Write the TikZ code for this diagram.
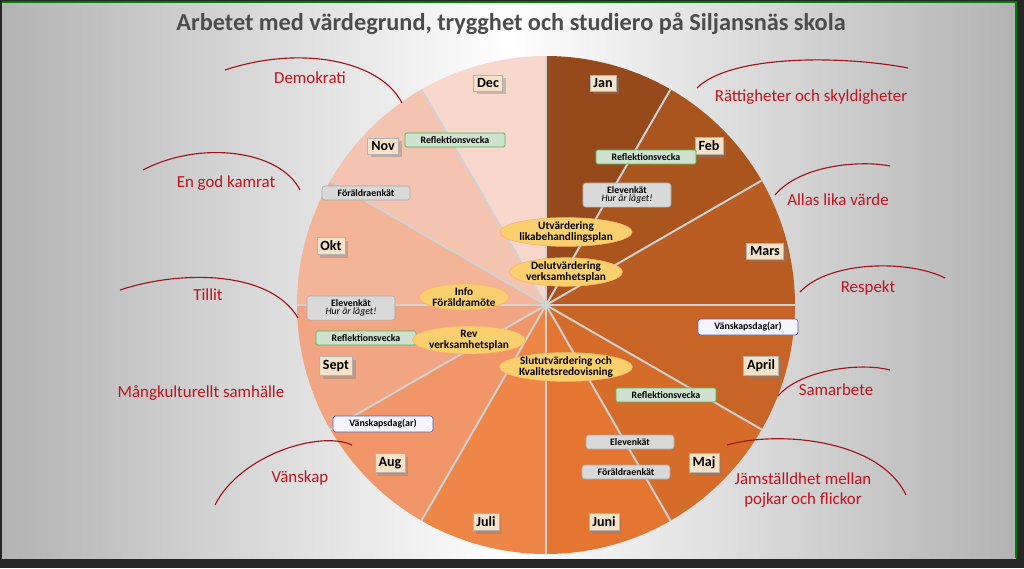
\documentclass[tikz,border=0pt]{standalone}
\usepackage{fontspec}
\setmainfont{Carlito}
\usetikzlibrary{shapes.geometric,shadows}
\definecolor{mJan}{RGB}{150,74,28}
\definecolor{mFeb}{RGB}{170,84,30}
\definecolor{mMar}{RGB}{186,93,34}
\definecolor{mApr}{RGB}{200,100,38}
\definecolor{mMaj}{RGB}{214,108,42}
\definecolor{mJun}{RGB}{228,118,50}
\definecolor{mJul}{RGB}{238,134,72}
\definecolor{mAug}{RGB}{240,150,104}
\definecolor{mSep}{RGB}{241,165,130}
\definecolor{mOkt}{RGB}{243,180,152}
\definecolor{mNov}{RGB}{245,196,176}
\definecolor{mDec}{RGB}{248,216,204}
\definecolor{valred}{RGB}{190,20,30}
\definecolor{arcred}{RGB}{160,20,25}
\definecolor{evtfill}{RGB}{250,208,110}
\definecolor{monthfill}{RGB}{246,226,200}
\tikzset{
  month/.style={draw=gray!60, fill=monthfill, font=\bfseries, inner sep=2.5pt, drop shadow={opacity=0.4}},
  reflbox/.style={draw=green!40!gray, fill=green!25!gray!30, font=\bfseries\scriptsize, rounded corners=1pt, inner sep=2.5pt, minimum width=2.5cm},
  enkat/.style={draw=gray!70, fill=gray!30, font=\bfseries\scriptsize, rounded corners=2pt, inner sep=2.5pt, align=center, minimum width=2.2cm},
  vanbox/.style={draw=blue!30!gray, fill=blue!4, font=\bfseries\scriptsize, rounded corners=2pt, inner sep=2.5pt, minimum width=2.5cm},
  evt/.style={ellipse, draw=orange!60, fill=evtfill, font=\bfseries\footnotesize, align=center, inner sep=0pt},
  value/.style={text=valred, font=\large, align=center},
  valarc/.style={draw=arcred, thick}
}
\begin{document}
\begin{tikzpicture}[x=0.025cm, y=-0.025cm]
%background frame
\useasboundingbox (0,0) rectangle (1024,568);
\fill[black!85] (0,0) rectangle (1024,568);
\shade[left color=gray!60, right color=gray!60, middle color=white] (2,2) rectangle (1016,558);
\draw[green!50!black, line width=1.2pt] (2,2) -- (1016,2) -- (1016,558);

%title
\node[font=\bfseries\LARGE, text=black!70] (title) at (511,24) {Arbetet med värdegrund, trygghet och studiero på Siljansnäs skola};

%wheel of months
\coordinate (C) at (546,305);
\foreach \col [count=\i] in {mJan,mFeb,mMar,mApr,mMaj,mJun,mJul,mAug,mSep,mOkt,mNov,mDec} {
  \pgfmathsetmacro{\sa}{-120+30*\i}
  \fill[\col] (C) -- ++(\sa:249) arc[start angle=\sa, end angle=\sa+30, radius=249] -- cycle;
}
\foreach \a in {-90,-60,...,240}
  \draw[gray!35, line width=1.4pt] (C) -- ++(\a:249);

\node[month] (jan) at (603,83) {Jan};
\node[month] (feb) at (709,146) {Feb};
\node[month] (mar) at (765,251) {Mars};
\node[month] (apr) at (761,366) {April};
\node[month] (maj) at (704,463) {Maj};
\node[month] (jun) at (604,522) {Juni};
\node[month] (jul) at (486,522) {Juli};
\node[month] (aug) at (390,463) {Aug};
\node[month] (sep) at (336,366) {Sept};
\node[month] (okt) at (331,246) {Okt};
\node[month] (nov) at (383,146) {Nov};
\node[month] (dec) at (488,83) {Dec};

%activities
\node[reflbox] (refl1) at (455,140) {Reflektionsvecka};
\node[reflbox] (refl2) at (646,157) {Reflektionsvecka};
\node[reflbox] (refl3) at (366,338) {Reflektionsvecka};
\node[reflbox] (refl4) at (666,395) {Reflektionsvecka};
\node[enkat] (elev1) at (627,195) {Elevenkät\\[-2pt]{\mdseries\itshape Hur är läget!}};
\node[enkat] (elev2) at (351,308) {Elevenkät\\[-2pt]{\mdseries\itshape Hur är läget!}};
\node[enkat] (elev3) at (630,442) {Elevenkät};
\node[enkat] (foer1) at (366,193) {Föräldraenkät};
\node[enkat] (foer2) at (626,472) {Föräldraenkät};
\node[vanbox] (van1) at (748,327) {Vänskapsdag(ar)};
\node[vanbox] (van2) at (383,424) {Vänskapsdag(ar)};

\node[evt] (utv) at (566,232) {Utvärdering\\[-2pt]likabehandlingsplan};
\node[evt] (delutv) at (566,272) {Delutvärdering\\[-2pt]verksamhetsplan};
\node[evt] (info) at (464,297) {Info\\[-2pt]Föräldramöte};
\node[evt] (rev) at (469,340) {Rev\\[-2pt]verksamhetsplan};
\node[evt] (slut) at (566,367) {Slututvärdering och\\[-2pt]Kvalitetsredovisning};

%values
\node[value] (demo) at (310,78) {Demokrati};
\node[value] (ratt) at (811,97) {Rättigheter och skyldigheter};
\node[value] (allas) at (838,200) {Allas lika värde};
\node[value] (resp) at (868,288) {Respekt};
\node[value] (samarb) at (836,390) {Samarbete};
\node[value] (jamst) at (803,490) {Jämställdhet mellan\\pojkar och flickor};
\node[value] (kamrat) at (226,183) {En god kamrat};
\node[value] (tillit) at (208,295) {Tillit};
\node[value] (mangk) at (201,393) {Mångkulturellt samhälle};
\node[value] (vansk) at (300,478) {Vänskap};

\draw[valarc] (225,70) .. controls (300,45) and (380,60) .. (402,103);
\draw[valarc] (697,88) .. controls (730,55) and (840,55) .. (908,68);
\draw[valarc] (775,195) .. controls (800,165) and (860,160) .. (890,166);
\draw[valarc] (800,292) .. controls (830,260) and (910,260) .. (945,278);
\draw[valarc] (778,396) .. controls (800,370) and (860,362) .. (890,370);
\draw[valarc] (727,445) .. controls (780,430) and (880,440) .. (906,495);
\draw[valarc] (143,170) .. controls (200,140) and (280,150) .. (300,190);
\draw[valarc] (120,290) .. controls (180,270) and (270,270) .. (298,318);
\draw[valarc] (215,505) .. controls (240,455) and (320,430) .. (352,445);
\end{tikzpicture}
\end{document}
